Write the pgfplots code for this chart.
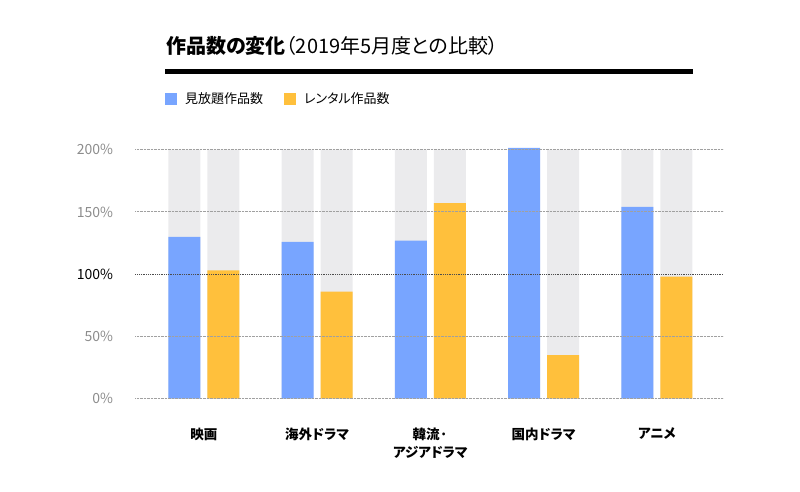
\documentclass[border=0pt]{standalone}
\usepackage{fontspec}
\setmainfont{Noto Sans CJK JP}[RawFeature=+palt]
\usepackage{pgfplots}
\pgfplotsset{compat=1.18}

\definecolor{barblue}{HTML}{78A5FF}
\definecolor{baryellow}{HTML}{FFC03C}
\definecolor{bargray}{HTML}{EBEBED}
\definecolor{tickgray}{HTML}{8C8C8C}
\definecolor{gridgray}{HTML}{A0A0A0}

\begin{document}
\begin{tikzpicture}[x=1pt,y=1pt]
\path[use as bounding box] (0,0) rectangle (800,492);

% title and rule
\node[anchor=base west, inner sep=0pt, font=\fontsize{20}{24}\selectfont]
  at (166,438) {\bfseries 作品数の変化\mdseries（2019年5月度との比較）};
\draw[line width=5pt] (165,420.5) -- (693,420.5);

% legend
\fill[barblue] (165,387) rectangle (177,399);
\node[anchor=west, inner sep=0pt, font=\fontsize{13}{15}\selectfont] at (185,393) {見放題作品数};
\fill[baryellow] (284,387) rectangle (296,399);
\node[anchor=west, inner sep=0pt, font=\fontsize{13}{15}\selectfont] at (304,393) {レンタル作品数};

\begin{axis}[
  at={(119.5,75)}, anchor=south west,
  scale only axis, width=588pt, height=249pt,
  xmin=-0.605, xmax=4.587, ymin=0, ymax=200,
  clip=false, axis on top,
  axis line style={draw=none},
  major tick length=0pt,
  xtick={0,1,2,3,4},
  xticklabels={映画,海外ドラマ,{韓流·\\アジアドラマ},国内ドラマ,アニメ},
  xticklabel style={align=center, inner sep=0pt, anchor=north,
    font=\fontsize{13.5}{18}\selectfont\bfseries, text=black},
  xticklabel shift=29pt,
  ytick={0,50,150,200},
  yticklabels={0\%,50\%,150\%,200\%},
  yticklabel style={inner sep=0pt, anchor=east, font=\fontsize{14}{16}\selectfont, text=tickgray},
  yticklabel shift=22pt,
  extra y ticks={100},
  extra y tick labels={100\%},
  extra y tick style={yticklabel style={text=black}, grid style={densely dotted, line width=0.9pt, color=black!70}},
  ymajorgrids,
  grid style={densely dotted, line width=0.8pt, color=gridgray},
  /pgf/number format/assume math mode=true,
]
% background tracks up to 200%
\addplot[ybar, bar width=0.2826, bar shift=-0.172, fill=bargray, draw=none]
  coordinates {(0,200) (1,200) (2,200) (3,200) (4,200)};
\addplot[ybar, bar width=0.2826, bar shift=0.172, fill=bargray, draw=none]
  coordinates {(0,200) (1,200) (2,200) (3,200) (4,200)};
% 見放題作品数
\addplot[ybar, bar width=0.2826, bar shift=-0.172, fill=barblue, draw=none]
  coordinates {(0,130) (1,126) (2,127) (3,201.5) (4,154)};
% レンタル作品数
\addplot[ybar, bar width=0.2826, bar shift=0.172, fill=baryellow, draw=none]
  coordinates {(0,103) (1,86) (2,157) (3,35) (4,98)};
\end{axis}
\end{tikzpicture}
\end{document}
